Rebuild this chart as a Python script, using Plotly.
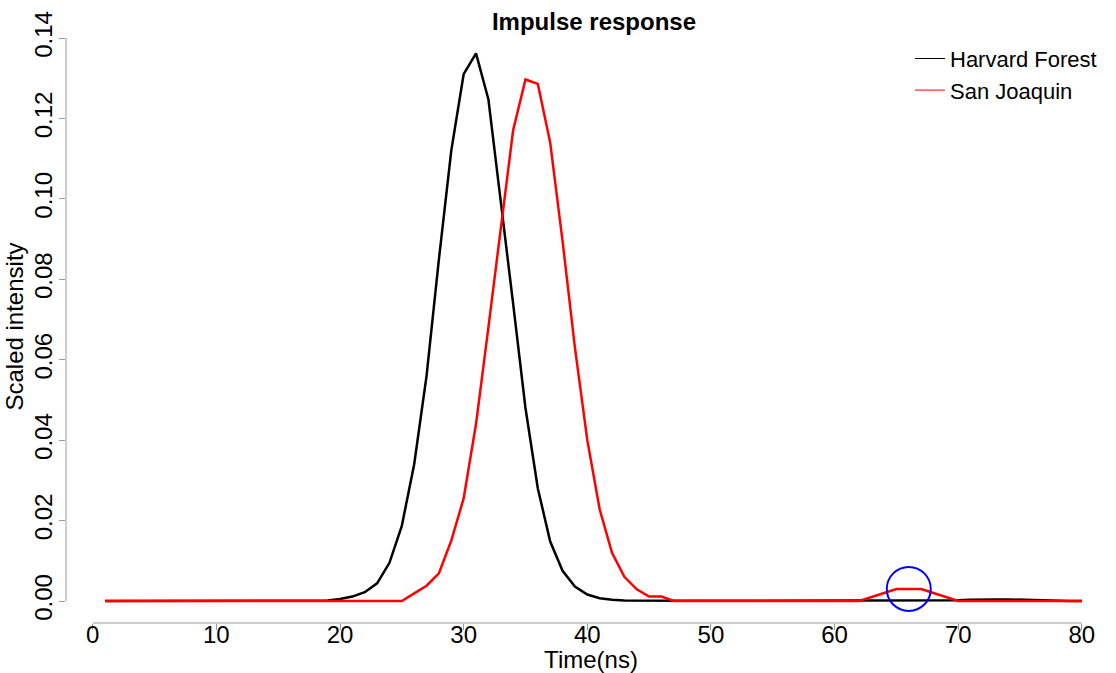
import plotly.graph_objects as go

# ---------------- data ----------------
time_ns = [1, 2, 3, 4, 5, 6, 7, 8, 9, 10,
           11, 12, 13, 14, 15, 16, 17, 18, 19, 20,
           21, 22, 23, 24, 25, 26, 27, 28, 29, 30,
           31, 32, 33, 34, 35, 36, 37, 38, 39, 40,
           41, 42, 43, 44, 45, 46, 47, 48, 49, 50,
           51, 52, 53, 54, 55, 56, 57, 58, 59, 60,
           61, 62, 63, 64, 65, 66, 67, 68, 69, 70,
           71, 72, 73, 74, 75, 76, 77, 78, 79, 80]

harvard_forest = [0, 0, 0, 0, 0, 0, 0, 0, 0, 0,
                  0, 0, 0, 0, 0, 0, 0, 0, 0.0001, 0.0005,
                  0.0011, 0.0022, 0.0044, 0.0095, 0.0187, 0.034, 0.056, 0.085, 0.112, 0.131,
                  0.1362, 0.1248, 0.100, 0.074, 0.048, 0.028, 0.0148, 0.0075, 0.0036, 0.0016,
                  0.0007, 0.0003, 0.00015, 0.0001, 0.00005, 0.00005, 0.00005, 0.00005, 0.00005, 0.00005,
                  0.00005, 0.00005, 0.00005, 0.00005, 0.00005, 0.00005, 0.00005, 0.00005, 0.00005, 0.00005,
                  0.00005, 0.0001, 0.0001, 0.0001, 0.0001, 0.0001, 0.0001, 0.0001, 0.0001, 0.0002,
                  0.0003, 0.0004, 0.0004, 0.0004, 0.0003, 0.0002, 0.0001, 0, 0, 0]

san_joaquin = [0, 0, 0, 0, 0, 0, 0, 0, 0, 0,
               0, 0, 0, 0, 0, 0, 0, 0, 0, 0,
               0, 0, 0, 0, 0, 0.0019, 0.0038, 0.0069, 0.0150, 0.0255,
               0.0440, 0.0680, 0.0930, 0.1170, 0.1297, 0.1286, 0.1140, 0.0895, 0.0630, 0.0400,
               0.0228, 0.0120, 0.0060, 0.0029, 0.0011, 0.0011, 0, 0, 0, 0,
               0, 0, 0, 0, 0, 0, 0, 0, 0, 0,
               0, 0, 0.001, 0.002, 0.003, 0.003, 0.003, 0.002, 0.001, 0,
               0, 0, 0, 0, 0, 0, 0, 0, 0, 0]

highlight_time = [66]
highlight_value = [0.003]

x_ticks = [0, 10, 20, 30, 40, 50, 60, 70, 80]
y_ticks = [0.00, 0.02, 0.04, 0.06, 0.08, 0.10, 0.12, 0.14]
y_tick_labels = ["0.00", "0.02", "0.04", "0.06", "0.08", "0.10", "0.12", "0.14"]

# ---------------- style ----------------
FONT = "Liberation Sans, Arial, Helvetica, sans-serif"
AXIS_GREY = "#9a9a9a"
X_RANGE = [-2.16, 82.76]
Y_RANGE = [-0.00547, 0.1420]

fig = go.Figure()

fig.add_trace(go.Scatter(x=time_ns, y=harvard_forest, mode="lines",
                         line=dict(color="#000000", width=2.5),
                         name="Harvard Forest", showlegend=False, hoverinfo="x+y"))
fig.add_trace(go.Scatter(x=time_ns, y=san_joaquin, mode="lines",
                         line=dict(color="#ff0000", width=2.5),
                         name="San Joaquin", showlegend=False, hoverinfo="x+y"))
fig.add_trace(go.Scatter(x=highlight_time, y=highlight_value, mode="markers",
                         marker=dict(symbol="circle-open", size=44, color="#0000ff",
                                     line=dict(width=2, color="#0000ff")),
                         showlegend=False, hoverinfo="skip"))

# legend entries with thin lines (like the reference)
fig.add_trace(go.Scatter(x=[None], y=[None], mode="lines",
                         line=dict(color="#000000", width=1), name="Harvard Forest"))
fig.add_trace(go.Scatter(x=[None], y=[None], mode="lines",
                         line=dict(color="#ff0000", width=1), name="San Joaquin"))

# R-style detached axis lines spanning only the tick range
def xpaper(v):
    return (v - X_RANGE[0]) / (X_RANGE[1] - X_RANGE[0])

def ypaper(v):
    return (v - Y_RANGE[0]) / (Y_RANGE[1] - Y_RANGE[0])

fig.add_shape(type="line", xref="paper", yref="paper",
              x0=xpaper(x_ticks[0]), x1=xpaper(x_ticks[-1]), y0=0, y1=0,
              line=dict(color=AXIS_GREY, width=1))
fig.add_shape(type="line", xref="paper", yref="paper",
              x0=0, x1=0, y0=ypaper(y_ticks[0]), y1=ypaper(y_ticks[-1]),
              line=dict(color=AXIS_GREY, width=1))

fig.update_layout(
    width=1116, height=673,
    margin=dict(l=66, r=0, t=30, b=50, autoexpand=False),
    paper_bgcolor="white", plot_bgcolor="white",
    font=dict(family=FONT, size=24, color="#000000"),
    title=dict(text="<b>Impulse response</b>", x=594 / 1116, xref="container", xanchor="center",
               y=1 - 22 / 673, yref="container", yanchor="middle",
               font=dict(family=FONT, size=24, color="#000000")),
    legend=dict(x=0.8038, y=0.987, xanchor="left", yanchor="top",
                font=dict(family=FONT, size=22, color="#000000"),
                bgcolor="rgba(0,0,0,0)", tracegroupgap=0),
    xaxis=dict(range=X_RANGE, tickmode="array", tickvals=x_ticks,
               ticks="outside", ticklen=6, tickwidth=1, tickcolor=AXIS_GREY,
               ticklabelstandoff=-16, automargin=False,
               showline=False, showgrid=False, zeroline=False,
               tickfont=dict(family=FONT, size=24, color="#000000"),
               title=dict(text="Time(ns)", standoff=0,
                          font=dict(family=FONT, size=24, color="#000000"))),
    yaxis=dict(range=Y_RANGE, tickmode="array", tickvals=y_ticks, ticktext=y_tick_labels,
               ticks="outside", ticklen=6, tickwidth=1, tickcolor=AXIS_GREY,
               tickangle=-90, ticklabelstandoff=-3, automargin=False,
               showline=False, showgrid=False, zeroline=False,
               tickfont=dict(family=FONT, size=24, color="#000000"),
               title=dict(text="Scaled intensity", standoff=0,
                          font=dict(family=FONT, size=24, color="#000000"))),
)

fig.write_html("out.html")
